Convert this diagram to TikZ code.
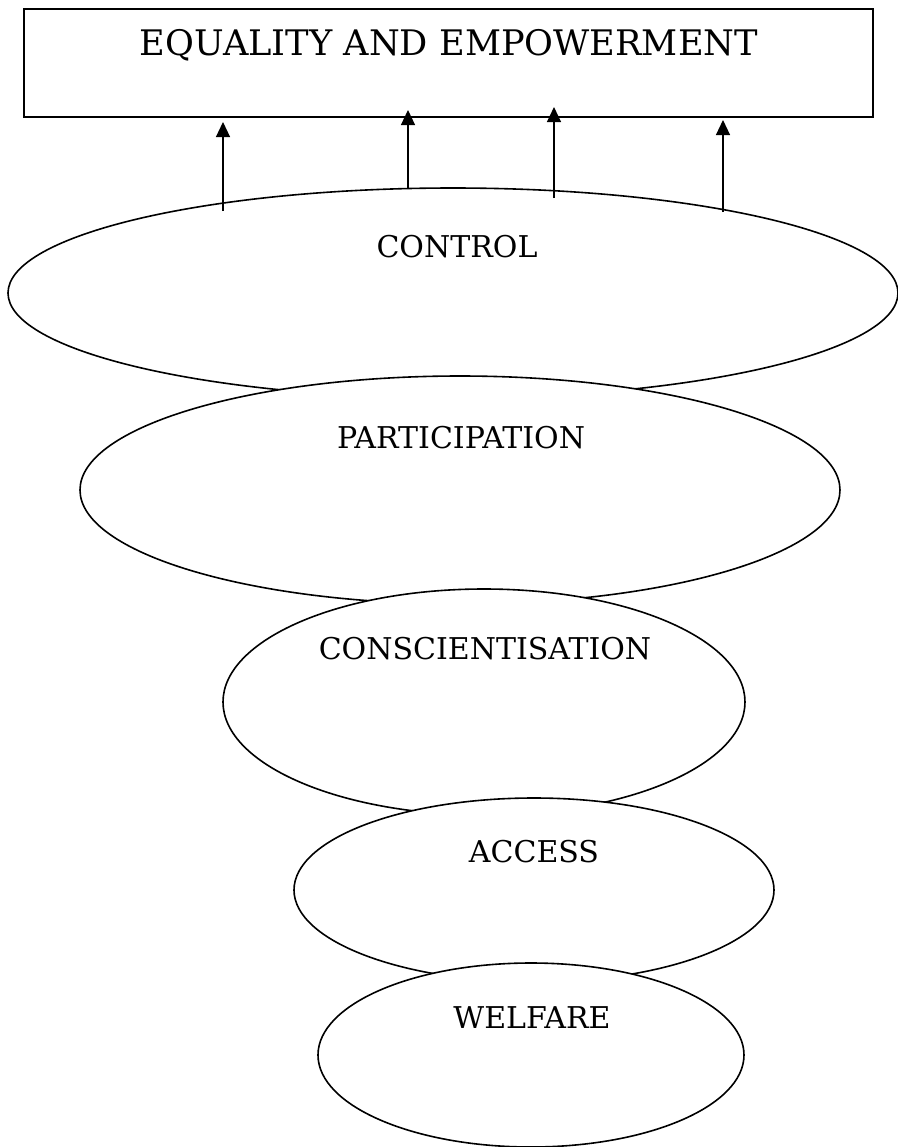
\documentclass[tikz,border=0pt]{standalone}
\usepackage{fontspec}
\setmainfont{DejaVu Serif}
\usetikzlibrary{shapes.geometric,arrows.meta}

\begin{document}
\begin{tikzpicture}[x=0.5pt,y=-0.5pt]
    \useasboundingbox (0,0) rectangle (898,1147);
    % goal box
    \node[draw,thick,minimum width=424.5pt,minimum height=54pt,inner sep=0pt] (goal) at (448.5,63) {};
    \node[anchor=base,font=\fontsize{17.6}{21}\selectfont] (goaltxt) at (449,55) {EQUALITY AND EMPOWERMENT};
    % levels, bottom ones drawn over top ones
    \begin{scope}[every node/.style={ellipse,draw,thick,fill=white,inner sep=0pt,outer sep=0pt}]
        \node[minimum width=445pt,minimum height=105pt] (control) at (453,293) {};
        \node[minimum width=380pt,minimum height=114pt] (particip) at (460,490) {};
        \node[minimum width=261pt,minimum height=113pt] (conscient) at (484,702) {};
        \node[minimum width=240pt,minimum height=92pt] (access) at (534,890) {};
        \node[minimum width=213pt,minimum height=92pt] (welfare) at (531,1055) {};
    \end{scope}
    \begin{scope}[every node/.style={anchor=base,font=\fontsize{15}{18}\selectfont}]
        \node (controltxt) at (457,257) {CONTROL};
        \node (participtxt) at (461,448) {PARTICIPATION};
        \node (conscienttxt) at (485,659) {CONSCIENTISATION};
        \node (accesstxt) at (534,862) {ACCESS};
        \node (welfaretxt) at (532,1028) {WELFARE};
    \end{scope}
    % arrows up to the goal
    \coordinate (t1) at (223,211);
    \coordinate (t2) at (408,188);
    \coordinate (t3) at (554,198);
    \coordinate (t4) at (723,212);
    \coordinate (h1) at (223,122);
    \coordinate (h2) at (408,110);
    \coordinate (h3) at (554,107);
    \coordinate (h4) at (723,120);
    \begin{scope}[semithick,-{Triangle[length=7.5pt,width=7pt]}]
        \draw (t1) -- (h1);
        \draw (t2) -- (h2);
        \draw (t3) -- (h3);
        \draw (t4) -- (h4);
    \end{scope}
\end{tikzpicture}
\end{document}
